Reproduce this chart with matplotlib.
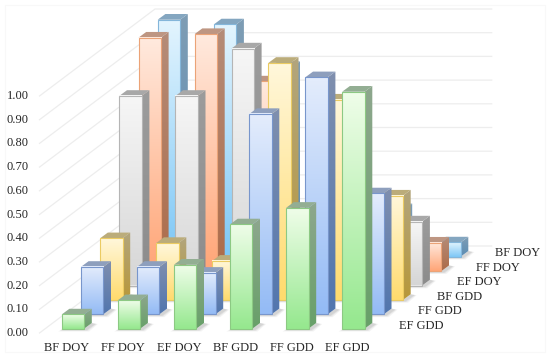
import numpy as np
import matplotlib
matplotlib.use("Agg")
import matplotlib.pyplot as plt
from matplotlib.patches import Polygon, Rectangle
from matplotlib.colors import to_rgb

categories = ["BF DOY", "FF DOY", "EF DOY", "BF GDD", "FF GDD", "EF GDD"]
series_names = ["EF GDD", "FF GDD", "BF GDD", "EF DOY", "FF DOY", "BF DOY"]  # front to back
ef_gdd = [0.06, 0.12, 0.27, 0.44, 0.51, 1.00]
ff_gdd = [0.20, 0.20, 0.175, 0.845, 1.00, 0.51]
bf_gdd = [0.26, 0.24, 0.165, 1.00, 0.845, 0.44]
ef_doy = [0.80, 0.80, 1.00, 0.165, 0.175, 0.27]
ff_doy = [0.985, 1.00, 0.80, 0.24, 0.20, 0.12]
bf_doy = [1.00, 0.98, 0.80, 0.26, 0.20, 0.06]
series_values = [ef_gdd, ff_gdd, bf_gdd, ef_doy, ff_doy, bf_doy]
y_ticks = [0.0, 0.1, 0.2, 0.3, 0.4, 0.5, 0.6, 0.7, 0.8, 0.9, 1.0]

# style per series, front to back: (top grad, bottom grad, edge, side top, side bottom, cap)
styles = [
    ("#EEFDE8", "#96E88F", "#8CC983", "#8DA78D", "#68A069", "#93AE93"),
    ("#E3ECFC", "#94BBF5", "#7896CC", "#7F8FAE", "#5276AE", "#8E9FBD"),
    ("#FFF7DA", "#FFDB6E", "#EBCB62", "#B2A57C", "#B8983A", "#BBAC7A"),
    ("#F6F6F6", "#D6D6D6", "#B5B5B5", "#9C9C9C", "#8C8C8C", "#A8A8A8"),
    ("#FFE9DD", "#FFA678", "#EBA377", "#B58C78", "#AD6C4A", "#BE9682"),
    ("#E2F4FE", "#7FC8F6", "#84B6DA", "#7E9DB5", "#5A8CB3", "#84A6C0"),
]

# projection constants (figure pixels)
X0, DX, BAR_W = 61.7, 56.1, 22.4
Y0, V_SCALE = 328.7, 237.0
ROW_DX, ROW_DY = 19.2, -14.4
SIDE_DX, SIDE_DY = 7.7, -5.7
WALL_LX, WALL_LY = 39.5, 333.0
WALL_BX, WALL_BY, WALL_RX = 155.0, 246.0, 491.7


def project(col, row, value):
    return X0 + DX * col + ROW_DX * row, Y0 + ROW_DY * row - V_SCALE * value


plt.rcParams["font.family"] = ["Liberation Serif", "DejaVu Serif"]
fig = plt.figure(figsize=(5.5, 3.56), dpi=100)
ax = fig.add_axes([0, 0, 1, 1])
ax.set_xlim(0, 550)
ax.set_ylim(356, 0)
ax.axis("off")
ax.set_autoscale_on(False)

ax.add_patch(Rectangle((5, 5), 540, 346.5, fill=False, ec="#F8F8F8", lw=0.8, zorder=0))

GRID = "#EDEDED"
for v in y_ticks:
    yl = WALL_LY - V_SCALE * v
    yb = WALL_BY - V_SCALE * v
    ax.plot([WALL_LX, WALL_BX, WALL_RX], [yl, yb, yb], color=GRID, lw=0.9, zorder=1,
            solid_joinstyle="miter")
    ax.text(28.5, yl, f"{v:.2f}", ha="right", va="center", fontsize=9, color="#262626")


def grad(c1, c2, n=32):
    a, b = np.array(to_rgb(c1)), np.array(to_rgb(c2))
    t = np.linspace(0, 1, n)[:, None, None]
    return a[None, None, :] * (1 - t) + b[None, None, :] * t


z = 2.0
for row in range(5, -1, -1):
    vals = series_values[row]
    top_c, bot_c, edge, s_top, s_bot, cap = styles[row]
    for col, v in enumerate(vals):
        xb, yb = project(col, row, 0)
        _, yt = project(col, row, v)
        xr = xb + BAR_W
        # soft floor shadow, built from layered translucent polygons
        for grow, alpha in ((3.0, 0.08), (1.8, 0.10), (0.8, 0.12)):
            ax.add_patch(Polygon([(xb + 1, yb), (xr, yb), (xr + SIDE_DX, yb + SIDE_DY),
                                  (xr + SIDE_DX + 3 + grow, yb + SIDE_DY + 1),
                                  (xr + 2 + grow, yb + 1 + grow * 0.6),
                                  (xb + 1 - grow * 1.5, yb + 1 + grow * 0.6)],
                                 closed=True, fc="#666666", ec="none", alpha=alpha, zorder=z))
        z += 0.01
        # side face
        side_pts = [(xr, yb), (xr + SIDE_DX, yb + SIDE_DY), (xr + SIDE_DX, yt + SIDE_DY), (xr, yt)]
        side_patch = Polygon(side_pts, closed=True, fc="none", ec="none", zorder=z)
        ax.add_patch(side_patch)
        im = ax.imshow(grad(s_top, s_bot), extent=(xr, xr + SIDE_DX, yb, yt + SIDE_DY),
                       aspect="auto", interpolation="bilinear", zorder=z)
        im.set_clip_path(side_patch)
        z += 0.01
        # cap
        ax.add_patch(Polygon([(xb, yt), (xr, yt), (xr + SIDE_DX, yt + SIDE_DY), (xb + SIDE_DX, yt + SIDE_DY)],
                             closed=True, fc=cap, ec="none", zorder=z))
        z += 0.01
        # front face
        ax.imshow(grad(top_c, bot_c), extent=(xb, xr, yb, yt), aspect="auto",
                  interpolation="bilinear", zorder=z)
        ax.add_patch(Rectangle((xb, yt), BAR_W, yb - yt, fill=False, ec=edge, lw=0.8, zorder=z + 0.005))
        z += 0.01

for col, name in enumerate(categories):
    ax.text(67 + DX * col, 348, name, ha="center", va="center", fontsize=9, color="#262626")
for row, name in enumerate(series_names):
    ax.text(399 + 19.2 * row, 326 - 14.6 * row, name, ha="left", va="center",
            fontsize=9, color="#262626")

fig.savefig("out.png", dpi=100)
